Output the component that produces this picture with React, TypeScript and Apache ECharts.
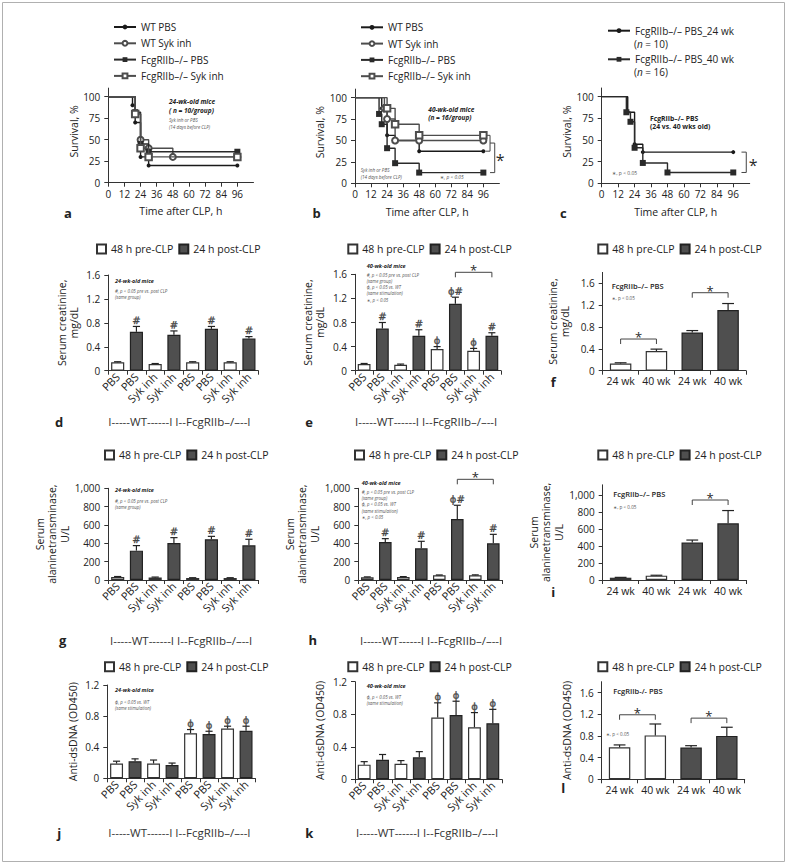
import React, { useEffect, useRef } from 'react';
import * as echarts from 'echarts';

const FONT = "'Open Sans', 'Noto Sans', 'DejaVu Sans', sans-serif";
const MARK_FONT = "'DejaVu Sans', sans-serif";
const INK = '#222';
const AXIS = '#333';
const DARK_FILL = '#4f4f4f';

// ---------------- Survival (Kaplan–Meier) ----------------
const timeTicks = [0, 12, 24, 36, 48, 60, 72, 84, 96];
const survivalTicks = [0, 25, 50, 75, 100];
const groupNames = ['WT PBS', 'WT Syk inh', 'FcgRIIb–/– PBS', 'FcgRIIb–/– Syk inh'];
const ageNames = ['FcgRIIb–/– PBS_24 wk', 'FcgRIIb–/– PBS_40 wk'];

const survA_wtPbs = [[0, 100], [18, 90], [20, 70], [24, 30], [30, 20], [96, 20]];
const survA_wtSyk = [[0, 100], [20, 80], [24, 50], [30, 40], [48, 30], [96, 30]];
const survA_fcPbs = [[0, 100], [20, 82], [24, 45], [30, 36], [96, 36]];
const survA_fcSyk = [[0, 100], [20, 80], [24, 40], [30, 30], [96, 30]];

const survB_wtPbs = [[0, 100], [20, 87.5], [24, 56], [30, 50], [48, 37.5], [96, 37.5]];
const survB_wtSyk = [[0, 100], [22, 87.5], [24, 75], [30, 50], [48, 50], [96, 50]];
const survB_fcPbs = [[0, 100], [18, 81], [20, 69], [24, 41], [30, 23.5], [48, 12.5], [96, 12.5]];
const survB_fcSyk = [[0, 100], [24, 87.5], [30, 69], [48, 56], [96, 56]];

const survC_24 = [[0, 100], [19, 82], [24, 45], [30, 36], [96, 36]];
const survC_40 = [[0, 100], [18, 82], [21, 71], [24, 41], [30, 23.5], [48, 12.5], [96, 12.5]];

// brackets: [xStub, xVertical, yTop, yBottom]
const survBracketB = [[97.5, 101, 56, 37.5], [101, 104.5, 47, 12.5]];
const survStarB = [[108.6, 31]];
const survBracketC = [[102, 105.5, 36, 12.5]];
const survStarC = [[110.6, 25]];

// ---------------- Bar panels ----------------
const groupCats = ['PBS', 'PBS', 'Syk inh', 'Syk inh', 'PBS', 'PBS', 'Syk inh', 'Syk inh'];
const ageCats = ['24 wk', '40 wk', '24 wk', '40 wk'];
const creatTicks = [0, 0.4, 0.8, 1.2, 1.6];
const altTicks = [0, 200, 400, 600, 800, 1000];
const dnaTicks = [0, 0.4, 0.8, 1.2];
const dnaTicksL = [0, 0.4, 0.8, 1.2, 1.6];

const creatD = [0.14, 0.65, 0.11, 0.6, 0.14, 0.7, 0.14, 0.54];
const creatDErr = [0.01, 0.09, 0.01, 0.065, 0.01, 0.04, 0.01, 0.03];
const creatDMarks = ['', '#', '', '#', '', '#', '', '#'];

const creatE = [0.11, 0.7, 0.1, 0.58, 0.36, 1.11, 0.33, 0.58];
const creatEErr = [0.01, 0.1, 0.01, 0.1, 0.04, 0.11, 0.04, 0.05];
const creatEMarks = ['', '#', '', '#', 'ϕ', 'ϕ#', 'ϕ', '#'];
const creatEBrackets = [[5, 7, 1.633]];

const creatF = [0.13, 0.36, 0.7, 1.11];
const creatFErr = [0.015, 0.035, 0.035, 0.12];
const creatFBrackets = [[0, 1, 0.58], [2, 3, 1.428]];

const altG = [33, 320, 28, 404, 22, 444, 22, 378];
const altGErr = [5, 55, 4, 58, 3, 32, 3, 66];
const altGMarks = ['', '#', '', '#', '', '#', '', '#'];

const altH = [30, 415, 32, 345, 51, 665, 52, 400];
const altHErr = [4, 36, 5, 77, 4, 150, 4, 98];
const altHMarks = ['', '#', '', '#', '', 'ϕ#', '', '#'];
const altHBrackets = [[5, 7, 1098]];

const altI = [27, 51, 440, 667];
const altIErr = [4, 5, 30, 150];
const altIBrackets = [[2, 3, 941]];

const dnaJ = [0.19, 0.22, 0.19, 0.17, 0.58, 0.57, 0.64, 0.61];
const dnaJErr = [0.03, 0.03, 0.045, 0.026, 0.047, 0.035, 0.03, 0.06];
const dnaJMarks = ['', '', '', '', 'ϕ', 'ϕ', 'ϕ', 'ϕ'];

const dnaK = [0.18, 0.24, 0.19, 0.27, 0.76, 0.79, 0.64, 0.69];
const dnaKErr = [0.037, 0.065, 0.04, 0.07, 0.18, 0.17, 0.18, 0.17];
const dnaKMarks = ['', '', '', '', 'ϕ', 'ϕ', 'ϕ', 'ϕ'];

const dnaL = [0.59, 0.81, 0.585, 0.8];
const dnaLErr = [0.044, 0.21, 0.035, 0.16];
const dnaLBrackets = [[0, 1, 1.19], [2, 3, 1.128]];

const PRE = '48 h pre-CLP';
const POST = '24 h post-CLP';
const groupLabel = 'I-----WT------I I--FcgRIIb–/–--I';

const P: Record<string, { left: number; top: number; width: number; height: number }> = {
  a: { left: 108.3, top: 88.1, width: 145.2, height: 94.6 },
  b: { left: 355, top: 89.1, width: 144.4, height: 94.2 },
  c: { left: 601.7, top: 88, width: 148, height: 95.3 },
  d: { left: 108.3, top: 275, width: 150, height: 95.7 },
  e: { left: 355, top: 274.3, width: 146, height: 96.4 },
  f: { left: 602.7, top: 272.4, width: 143.3, height: 98.3 },
  g: { left: 108.3, top: 488.3, width: 150, height: 91.7 },
  h: { left: 358.3, top: 488.3, width: 144, height: 91.7 },
  i: { left: 602.7, top: 484.8, width: 143.3, height: 95.2 },
  j: { left: 107.3, top: 685, width: 148, height: 93.3 },
  k: { left: 355, top: 681.7, width: 147, height: 97.6 },
  l: { left: 601.7, top: 681.7, width: 143, height: 97.6 },
};

const survStyles = [
  { symbol: 'circle', size: 4, color: '#1a1a1a' },
  { symbol: 'emptyCircle', size: 6, color: '#4d4d4d' },
  { symbol: 'rect', size: 6, color: '#2a2a2a' },
  { symbol: 'emptyRect', size: 6.5, color: '#4d4d4d' },
];
const ageStyles = [
  { symbol: 'circle', size: 4, color: '#1a1a1a' },
  { symbol: 'rect', size: 6, color: '#2a2a2a' },
];

const MARK_COLOR = '#2a2a2a';

function txt(x: number, y: number, text: string, o: any = {}) {
  return {
    type: 'text',
    x,
    y,
    silent: true,
    style: {
      text,
      fontFamily: o.family ?? FONT,
      fontSize: o.size ?? 10,
      fontWeight: o.weight ?? 'normal',
      fontStyle: o.style ?? 'normal',
      fill: o.color ?? INK,
      align: o.align ?? 'left',
      verticalAlign: 'middle',
      rich: o.rich,
    },
  };
}

function ctext(x: number, y: number, text: string, size: number) {
  return {
    type: 'text', x, y,
    style: {
      text, fontSize: size, fontFamily: FONT,
      fill: MARK_COLOR, align: 'center', verticalAlign: 'middle',
    },
  };
}

function buildOption() {
  const grid: any[] = [];
  const xAxis: any[] = [];
  const yAxis: any[] = [];
  const series: any[] = [];
  const legend: any[] = [];
  const elements: any[] = [];

  const axisLine = { show: true, onZero: false, lineStyle: { color: AXIS, width: 1 } };
  const tickStyle = { color: AXIS, width: 1 };
  const labelBase = { fontSize: 10, fontFamily: FONT, color: INK };
  const nameStyle = { fontSize: 10.5, fontFamily: FONT, color: INK };
  const customColor = { color: MARK_COLOR, borderColor: MARK_COLOR };

  const addSurvival = (p: any, lists: number[][][], names: string[], styles: any[], brackets: number[][], star: number[][] | null) => {
    const gi = grid.length;
    grid.push({ ...p });
    xAxis.push({
      type: 'value', gridIndex: gi, min: 0, max: 108,
      axisLine, axisTick: { show: true, length: 4, customValues: timeTicks, lineStyle: tickStyle },
      axisLabel: { ...labelBase, customValues: timeTicks, margin: 6 },
      splitLine: { show: false },
      name: 'Time after CLP, h', nameLocation: 'middle', nameGap: 23, nameTextStyle: nameStyle,
    });
    yAxis.push({
      type: 'value', gridIndex: gi, min: 0, max: 110,
      axisLine, axisTick: { show: true, length: 4, customValues: survivalTicks, lineStyle: tickStyle },
      axisLabel: { ...labelBase, customValues: survivalTicks, margin: 8 },
      splitLine: { show: false },
      name: 'Survival, %', nameLocation: 'middle', nameRotate: 90, nameGap: 29,
      nameTextStyle: { ...nameStyle, padding: [0, 0, 0, 8] },
    });
    lists.forEach((pts, k) => {
      series.push({
        type: 'line', name: names[k], xAxisIndex: gi, yAxisIndex: gi, step: 'end',
        data: pts.map((pt, j) => (j === 0 ? { value: pt, symbol: 'none' } : pt)),
        symbol: styles[k].symbol, symbolSize: styles[k].size,
        lineStyle: { color: styles[k].color, width: 1.4 },
        itemStyle: { color: styles[k].color, borderWidth: 1.2 },
        z: 3 + k,
      });
    });
    if (brackets.length) {
      series.push({
        type: 'custom', xAxisIndex: gi, yAxisIndex: gi, clip: false, silent: true,
        itemStyle: customColor,
        encode: { x: 0, y: 2 },
        data: brackets,
        renderItem: (_p: any, api: any) => {
          const a = api.coord([api.value(0), api.value(2)]);
          const b = api.coord([api.value(1), api.value(2)]);
          const c = api.coord([api.value(1), api.value(3)]);
          const d = api.coord([api.value(0), api.value(3)]);
          return {
            type: 'polyline',
            shape: { points: [a, b, c, d] },
            style: { stroke: '#444', lineWidth: 1, fill: 'none' },
          };
        },
      });
    }
    if (star) {
      series.push({
        type: 'custom', xAxisIndex: gi, yAxisIndex: gi, clip: false, silent: true,
        itemStyle: customColor,
        data: star,
        renderItem: (_p: any, api: any) => {
          const s = api.coord([api.value(0), api.value(1)]);
          return ctext(s[0], s[1] + 3, '*', 16);
        },
      });
    }
    return gi;
  };

  const addBars = (p: any, cats: string[], vals: number[], errs: number[], marks: string[] | null,
    brackets: number[][] | null, ticks: number[], max: number, yName: string, nameGap: number,
    nameLH: number, rotate: boolean) => {
    const gi = grid.length;
    const n = cats.length;
    const frac = n === 8 ? 0.7 : 0.6;
    const isPre = (i: number) => (n === 8 ? i % 2 === 0 : i < 2);
    grid.push({ ...p });
    xAxis.push({
      type: 'category', gridIndex: gi, data: cats,
      axisLine, axisTick: { show: true, length: 4, alignWithLabel: false, lineStyle: tickStyle },
      axisLabel: { ...labelBase, fontSize: rotate ? 11 : 10.5, interval: 0, rotate: rotate ? 45 : 0, margin: rotate ? 4 : 5 },
      splitLine: { show: false },
    });
    yAxis.push({
      type: 'value', gridIndex: gi, min: 0, max,
      axisLine, axisTick: { show: true, length: 4, customValues: ticks, lineStyle: tickStyle },
      axisLabel: {
        ...labelBase, customValues: ticks, margin: 8,
        formatter: (v: number) => v.toLocaleString('en-US'),
      },
      splitLine: { show: false },
      name: yName, nameLocation: 'middle', nameRotate: 90, nameGap,
      nameTextStyle: { ...nameStyle, lineHeight: nameLH },
    });
    series.push({
      type: 'bar', name: PRE, xAxisIndex: gi, yAxisIndex: gi,
      data: vals.map((v, i) => (isPre(i) ? v : '-')),
      barWidth: `${frac * 100}%`, barGap: '-100%',
      itemStyle: { color: '#ffffff', borderColor: '#333', borderWidth: 1.2 },
    });
    series.push({
      type: 'bar', name: POST, xAxisIndex: gi, yAxisIndex: gi,
      data: vals.map((v, i) => (isPre(i) ? '-' : v)),
      barWidth: `${frac * 100}%`, barGap: '-100%',
      itemStyle: { color: DARK_FILL, borderColor: '#222', borderWidth: 1.2 },
    });
    // error bars (upper whisker + cap)
    series.push({
      type: 'custom', xAxisIndex: gi, yAxisIndex: gi, clip: false, silent: true, z: 5,
      itemStyle: customColor,
      encode: { x: 0, y: 1 },
      data: vals.map((v, i) => [i, v, errs[i]]),
      renderItem: (_params: any, api: any) => {
        const i = api.value(0), v = api.value(1), e = api.value(2);
        const b = api.coord([i, v]);
        const t = api.coord([i, v + e]);
        const cw = api.size([1, 0])[0];
        const cap = (cw * frac * 0.55) / 2;
        return {
          type: 'group',
          children: [
            { type: 'line', shape: { x1: b[0], y1: b[1], x2: t[0], y2: t[1] }, style: { stroke: '#222', lineWidth: 1.2 } },
            { type: 'line', shape: { x1: t[0] - cap, y1: t[1], x2: t[0] + cap, y2: t[1] }, style: { stroke: '#222', lineWidth: 1.2 } },
          ],
        };
      },
    });
    // significance marks above the error bars
    if (marks) {
      series.push({
        type: 'scatter', xAxisIndex: gi, yAxisIndex: gi, silent: true, z: 6,
        symbol: 'circle', symbolSize: 0.1,
        itemStyle: { color: 'rgba(0,0,0,0)' },
        data: vals.map((v, i) => [i, v + errs[i]]),
        label: {
          show: true, position: 'top', distance: 1, rotate: 0.2,
          formatter: (prm: any) => marks[prm.dataIndex],
          color: MARK_COLOR, fontSize: 10, fontFamily: MARK_FONT,
          textBorderColor: MARK_COLOR, textBorderWidth: 0.4,
        },
      });
    }
    if (brackets) {
      series.push({
        type: 'custom', xAxisIndex: gi, yAxisIndex: gi, clip: false, silent: true, z: 5,
        itemStyle: customColor,
        encode: { x: 0, y: 2 },
        data: brackets,
        renderItem: (_p: any, api: any) => {
          const a = api.coord([api.value(0), api.value(2)]);
          const b = api.coord([api.value(1), api.value(2)]);
          const tk = 5;
          return {
            type: 'group',
            children: [
              {
                type: 'polyline',
                shape: { points: [[a[0], a[1] + tk], [a[0], a[1]], [b[0], b[1]], [b[0], b[1] + tk]] },
                style: { stroke: '#444', lineWidth: 1, fill: 'none' },
              },
              ctext((a[0] + b[0]) / 2, a[1] - 2, '*', 13),
            ],
          };
        },
      });
    }
    return gi;
  };

  // ---- survival panels
  addSurvival(P.a, [survA_wtPbs, survA_wtSyk, survA_fcPbs, survA_fcSyk], groupNames, survStyles, [], null);
  addSurvival(P.b, [survB_wtPbs, survB_wtSyk, survB_fcPbs, survB_fcSyk], groupNames, survStyles, survBracketB, survStarB);
  addSurvival(P.c, [survC_24, survC_40], ageNames, ageStyles, survBracketC, survStarC);

  const survLegend = (left: number, top: number, data: string[], gap: number) => ({
    left, top, padding: 0, orient: 'vertical', itemWidth: 22, itemHeight: 6, itemGap: gap, data,
    selectedMode: false,
    textStyle: { fontSize: 10, fontFamily: FONT, color: INK, lineHeight: 12 },
  });
  legend.push(survLegend(113, 21, groupNames, 4.3));
  legend.push(survLegend(360, 21.3, groupNames, 4.3));
  legend.push(survLegend(607, 24.7, ageNames, 16.6));

  // ---- bar panels
  const creatName = 'Serum creatinine,\nmg/dL';
  const altName = 'Serum\nalaninetransminase,\nU/L';
  const dnaName = 'Anti-dsDNA (OD450)';
  addBars(P.d, groupCats, creatD, creatDErr, creatDMarks, null, creatTicks, 1.6, creatName, 28, 12, true);
  addBars(P.e, groupCats, creatE, creatEErr, creatEMarks, creatEBrackets, creatTicks, 1.6, creatName, 29, 12, true);
  addBars(P.f, ageCats, creatF, creatFErr, null, creatFBrackets, creatTicks, 1.8, creatName, 31.5, 12, false);
  addBars(P.g, groupCats, altG, altGErr, altGMarks, null, altTicks, 1000, altName, 34, 12.5, true);
  addBars(P.h, groupCats, altH, altHErr, altHMarks, altHBrackets, altTicks, 1000, altName, 36.5, 12.5, true);
  addBars(P.i, ageCats, altI, altIErr, null, altIBrackets, altTicks, 1120, altName, 37.5, 12.5, false);
  addBars(P.j, groupCats, dnaJ, dnaJErr, dnaJMarks, null, dnaTicks, 1.2, dnaName, 28, 12, true);
  addBars(P.k, groupCats, dnaK, dnaKErr, dnaKMarks, null, dnaTicks, 1.2, dnaName, 29, 12, true);
  addBars(P.l, ageCats, dnaL, dnaLErr, null, dnaLBrackets, dnaTicksL, 1.8, dnaName, 29, 12, false);

  const barLegend = (left: number, top: number) => ({
    left, top, padding: 0, orient: 'horizontal', itemWidth: 9, itemHeight: 9, itemGap: 5, icon: 'rect',
    selectedMode: false, data: [PRE, POST],
    textStyle: { fontSize: 10.5, fontFamily: FONT, color: INK, lineHeight: 13 },
  });
  [[96, 242.5], [347.3, 242.5], [597.3, 242.5], [104, 448.5], [354, 448.5], [597.3, 448.5],
    [104, 660.2], [347.3, 660.2], [597.3, 660.2]].forEach(([l, t]) => legend.push(barLegend(l, t)));

  // ---- annotations
  const bi = { weight: 'bold', style: 'italic' };
  const note = { style: 'italic', color: '#555' };
  // a
  elements.push(txt(169, 101, '24-wk-old mice', { ...bi, size: 6.5 }));
  elements.push(txt(169, 110.7, '( n = 10/group)', { ...bi, size: 6.5 }));
  elements.push(txt(169, 120, 'Syk inh or PBS', { ...note, size: 4.6 }));
  elements.push(txt(169, 126.7, '(14 days before CLP)', { ...note, size: 4.6 }));
  // b
  elements.push(txt(428.3, 109.3, '40-wk-old mice', { ...bi, size: 6.5 }));
  elements.push(txt(428.3, 117.7, '(n = 16/group)', { ...bi, size: 6.5 }));
  elements.push(txt(360.7, 170, 'Syk inh or PBS', { ...note, size: 4.6 }));
  elements.push(txt(360.7, 176.7, '(14 days before CLP)', { ...note, size: 4.6 }));
  elements.push(txt(440, 176.7, '∗, p < 0.05', { ...note, size: 4.8 }));
  // c
  elements.push(txt(650, 118.3, 'FcgRIIb–/– PBS', { weight: 'bold', size: 6.8 }));
  elements.push(txt(650, 126.7, '(24 vs. 40 wks old)', { weight: 'bold', size: 6.8 }));
  elements.push(txt(612, 173.3, '∗, p < 0.05', { color: '#555', size: 5 }));
  elements.push(txt(634, 44, '({i|n} = 10)', { size: 10, rich: { i: { fontStyle: 'italic', fontSize: 10, fontFamily: FONT } } }));
  elements.push(txt(634, 71.7, '({i|n} = 16)', { size: 10, rich: { i: { fontStyle: 'italic', fontSize: 10, fontFamily: FONT } } }));
  // d
  elements.push(txt(115, 281, '24-wk-old mice', { ...bi, size: 5.5 }));
  elements.push(txt(115, 291, '#, p < 0.05 pre vs. post CLP', { ...note, size: 4.4 }));
  elements.push(txt(115, 297.3, '(same group)', { ...note, size: 4.4 }));
  // e
  elements.push(txt(366.7, 265.7, '40-wk-old mice', { ...bi, size: 5.5 }));
  elements.push(txt(366.7, 275, '#, p < 0.05 pre vs. post CLP', { ...note, size: 4.4 }));
  elements.push(txt(366.7, 280.7, '(same group)', { ...note, size: 4.4 }));
  elements.push(txt(366.7, 286.7, 'ϕ, p < 0.05 vs. WT', { ...note, size: 4.4 }));
  elements.push(txt(366.7, 293.3, '(same stimulation)', { ...note, size: 4.4 }));
  elements.push(txt(366.7, 300, '∗, p < 0.05', { ...note, size: 4.4 }));
  // f
  elements.push(txt(611.7, 285.7, 'FcgRIIb–/– PBS', { weight: 600, size: 7.5 }));
  elements.push(txt(611.7, 298.3, '∗, p < 0.05', { color: '#555', size: 4.6 }));
  // g
  elements.push(txt(115, 490, '24-wk-old mice', { ...bi, size: 5.5 }));
  elements.push(txt(115, 501, '#, p < 0.05 pre vs. post CLP', { ...note, size: 4.4 }));
  elements.push(txt(115, 506.7, '(same group)', { ...note, size: 4.4 }));
  // h
  elements.push(txt(361.7, 482.7, '40-wk-old mice', { ...bi, size: 5.5 }));
  elements.push(txt(361.7, 492.3, '#, p < 0.05 pre vs. post CLP', { ...note, size: 4.4 }));
  elements.push(txt(361.7, 498.3, '(same group)', { ...note, size: 4.4 }));
  elements.push(txt(361.7, 504.3, 'ϕ, p < 0.05 vs. WT', { ...note, size: 4.4 }));
  elements.push(txt(361.7, 510.7, '(same stimulation)', { ...note, size: 4.4 }));
  elements.push(txt(361.7, 517.3, '∗, p < 0.05', { ...note, size: 4.4 }));
  // i
  elements.push(txt(613.3, 494, 'FcgRIIb–/– PBS', { weight: 600, size: 7.5 }));
  elements.push(txt(613.3, 507.3, '∗, p < 0.05', { color: '#555', size: 4.6 }));
  // j
  elements.push(txt(115, 690, '24-wk-old mice', { ...bi, size: 5.5 }));
  elements.push(txt(115, 701.7, 'ϕ, p < 0.05 vs. WT', { ...note, size: 4.4 }));
  elements.push(txt(115, 707.7, '(same stimulation)', { ...note, size: 4.4 }));
  // k
  elements.push(txt(366.7, 686, '40-wk-old mice', { ...bi, size: 5.5 }));
  elements.push(txt(366.7, 696.7, 'ϕ, p < 0.05 vs. WT', { ...note, size: 4.4 }));
  elements.push(txt(366.7, 703.3, '(same stimulation)', { ...note, size: 4.4 }));
  // l
  elements.push(txt(613.3, 690.7, 'FcgRIIb-/- PBS', { weight: 600, size: 7.5 }));
  elements.push(txt(606, 734.3, '∗, p < 0.05', { color: '#555', size: 4.6 }));

  // group labels under rotated category labels
  [[108.3, 421.7], [355, 421.7], [110, 640], [360, 640], [108.3, 832.7], [356, 832.7]].forEach(([x, y]) =>
    elements.push(txt(x, y, groupLabel, { size: 11.5, color: '#333' })));

  // panel letters
  const letters: [string, number, number][] = [
    ['a', 68, 212.7], ['b', 316.7, 212.7], ['c', 563.3, 212.7],
    ['d', 59, 421.7], ['e', 309, 421.7], ['f', 553.3, 381.7],
    ['g', 62.7, 640], ['h', 312.7, 640], ['i', 553.3, 591.7],
    ['j', 59.3, 832.7], ['k', 309.3, 832.7], ['l', 563.3, 788.3],
  ];
  letters.forEach(([s, x, y]) => elements.push(txt(x, y, s, { weight: 'bold', size: 13, align: 'center' })));

  // frame
  elements.push({
    type: 'rect', silent: true,
    shape: { x: 2.5, y: 2.5, width: 782, height: 859 },
    style: { fill: 'none', stroke: '#b0b0b0', lineWidth: 1 },
  });

  return {
    animation: false,
    backgroundColor: '#ffffff',
    textStyle: { fontFamily: FONT },
    grid, xAxis, yAxis, series, legend,
    graphic: { elements },
  };
}

export default function App() {
  const ref = useRef<HTMLDivElement>(null);
  useEffect(() => {
    const chart = echarts.init(ref.current as HTMLDivElement, null, { renderer: 'svg' });
    chart.setOption(buildOption() as any);
    return () => chart.dispose();
  }, []);
  return (
    <div
      ref={ref}
      style={{ position: 'fixed', left: 0, top: 0, width: 787, height: 864, background: '#fff' }}
    />
  );
}
